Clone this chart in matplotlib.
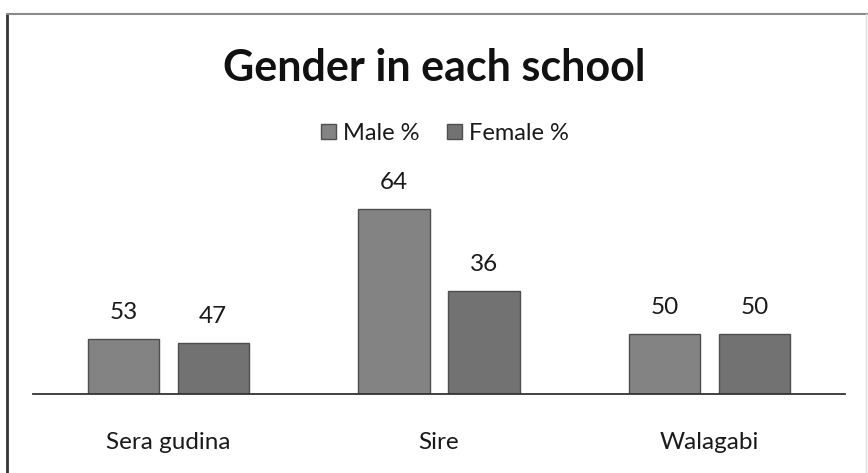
import matplotlib
matplotlib.use("Agg")
import matplotlib.pyplot as plt
from matplotlib.lines import Line2D
from matplotlib.patches import Patch

schools = ["Sera gudina", "Sire", "Walagabi"]
male_pct = [53, 64, 50]
female_pct = [47, 36, 50]
# bar heights as drawn in the source chart (not proportional to the labels)
male_height = [55, 185, 60]
female_height = [51, 103, 60]

male_color = "#838383"
female_color = "#727272"
edge_color = "#4e4e4e"

plt.rcParams["font.family"] = ["Lato", "DejaVu Sans"]

W, H = 868, 473
fig = plt.figure(figsize=(W / 100, H / 100), dpi=100)
fig.patch.set_facecolor("white")

# frame around the chart
fig.add_artist(Line2D([7 / W, 7 / W], [0, 1 - 14 / H], color="#333333", lw=2))
fig.add_artist(Line2D([7 / W, 1], [1 - 14 / H, 1 - 14 / H], color="#8a8a8a", lw=1.5))
fig.add_artist(Line2D([866 / W, 866 / W], [0, 1 - 14 / H], color="#e0e0e0", lw=1))

# axes: x from 33 to 845 px, baseline at 394 px, 1 unit = 1 px
ax = fig.add_axes([33 / W, (H - 394) / H, 812 / W, 234 / H])
ax.set_xlim(-0.5, 2.5)
ax.set_ylim(0, 234)

x = range(len(schools))
width = 0.263
off = 0.166
mb = ax.bar([i - off for i in x], male_height, width, color=male_color,
            edgecolor=edge_color, linewidth=1)
fb = ax.bar([i + off for i in x], female_height, width, color=female_color,
            edgecolor=edge_color, linewidth=1)

for bars, labels in ((mb, male_pct), (fb, female_pct)):
    for b, lab in zip(bars, labels):
        ax.annotate(str(lab), (b.get_x() + b.get_width() / 2, b.get_height()),
                    xytext=(0, 19), textcoords="offset points",
                    ha="center", va="center", fontsize=17.5, color="#1a1a1a")

for s in ["top", "right", "left"]:
    ax.spines[s].set_visible(False)
ax.spines["bottom"].set_color("#333333")
ax.spines["bottom"].set_linewidth(1.3)
ax.set_yticks([])
ax.set_xticks(list(x))
ax.set_xticklabels(schools, fontsize=17.5, color="#1a1a1a")
ax.tick_params(axis="x", length=0, pad=27)
ax.patch.set_alpha(0)

fig.text(0.5, 1 - 68 / H, "Gender in each school", ha="center", va="center",
         fontsize=31, fontweight="bold", color="#111111")

handles = [Patch(facecolor=male_color, edgecolor=edge_color, label="Male %"),
           Patch(facecolor=female_color, edgecolor=edge_color, label="Female %")]
fig.legend(handles=handles, loc="center", bbox_to_anchor=(445 / W, 1 - 133 / H),
           ncol=2, frameon=False, fontsize=17, handlelength=0.6, handleheight=0.6,
           handletextpad=0.3, columnspacing=1.2, labelcolor="#1a1a1a")

fig.savefig("out.png", dpi=100, facecolor="white")
